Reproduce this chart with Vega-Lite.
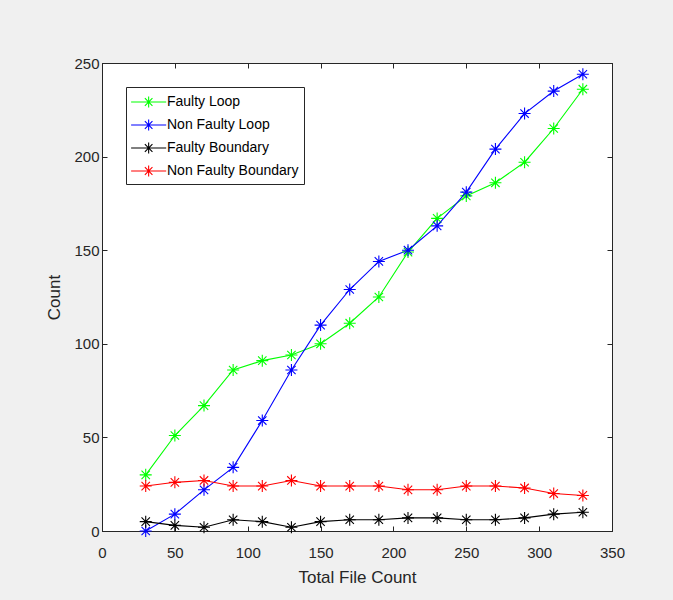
{
  "$schema": "https://vega.github.io/schema/vega-lite/v6.json",
  "autosize": "none",
  "width": 510,
  "height": 468,
  "padding": {"left": 102, "top": 63, "right": 61, "bottom": 69},
  "background": "#f0f0f0",
  "config": {
    "font": "Liberation Sans",
    "view": {"fill": "white", "stroke": "#262626", "strokeWidth": 1},
    "axis": {
      "grid": false,
      "domainColor": "#262626",
      "tickColor": "#262626",
      "tickSize": -5,
      "labelColor": "#262626",
      "labelFont": "Liberation Sans",
      "labelFontSize": 15,
      "labelFontWeight": "normal",
      "titleFont": "Liberation Sans",
      "titleFontSize": 17,
      "titleFontWeight": "normal",
      "titleColor": "#262626"
    },
    "legend": {
      "orient": "top-left",
      "offset": 24,
      "title": null,
      "strokeColor": "#262626",
      "fillColor": "white",
      "padding": 5,
      "rowPadding": 5,
      "labelFont": "Liberation Sans",
      "labelFontSize": 14,
      "labelColor": "#000000",
      "labelOffset": 16,
      "symbolType": "M-1.1,0H2.8M0.85,-0.6V0.6M0.43,-0.43L1.27,0.43M0.43,0.43L1.27,-0.43",
      "symbolSize": 324,
      "symbolStrokeWidth": 1.1,
      "symbolFillColor": "transparent"
    }
  },
  "data": {
    "values": [
      {"files": 30, "series": "Faulty Loop", "count": 30},
      {"files": 50, "series": "Faulty Loop", "count": 51},
      {"files": 70, "series": "Faulty Loop", "count": 67},
      {"files": 90, "series": "Faulty Loop", "count": 86},
      {"files": 110, "series": "Faulty Loop", "count": 91},
      {"files": 130, "series": "Faulty Loop", "count": 94},
      {"files": 150, "series": "Faulty Loop", "count": 100},
      {"files": 170, "series": "Faulty Loop", "count": 111},
      {"files": 190, "series": "Faulty Loop", "count": 125},
      {"files": 210, "series": "Faulty Loop", "count": 149},
      {"files": 230, "series": "Faulty Loop", "count": 167},
      {"files": 250, "series": "Faulty Loop", "count": 179},
      {"files": 270, "series": "Faulty Loop", "count": 186},
      {"files": 290, "series": "Faulty Loop", "count": 197},
      {"files": 310, "series": "Faulty Loop", "count": 215},
      {"files": 330, "series": "Faulty Loop", "count": 236},
      {"files": 30, "series": "Non Faulty Loop", "count": 0},
      {"files": 50, "series": "Non Faulty Loop", "count": 9},
      {"files": 70, "series": "Non Faulty Loop", "count": 22},
      {"files": 90, "series": "Non Faulty Loop", "count": 34},
      {"files": 110, "series": "Non Faulty Loop", "count": 59},
      {"files": 130, "series": "Non Faulty Loop", "count": 86},
      {"files": 150, "series": "Non Faulty Loop", "count": 110},
      {"files": 170, "series": "Non Faulty Loop", "count": 129},
      {"files": 190, "series": "Non Faulty Loop", "count": 144},
      {"files": 210, "series": "Non Faulty Loop", "count": 150},
      {"files": 230, "series": "Non Faulty Loop", "count": 163},
      {"files": 250, "series": "Non Faulty Loop", "count": 181},
      {"files": 270, "series": "Non Faulty Loop", "count": 204},
      {"files": 290, "series": "Non Faulty Loop", "count": 223},
      {"files": 310, "series": "Non Faulty Loop", "count": 235},
      {"files": 330, "series": "Non Faulty Loop", "count": 244},
      {"files": 30, "series": "Faulty Boundary", "count": 5},
      {"files": 50, "series": "Faulty Boundary", "count": 3},
      {"files": 70, "series": "Faulty Boundary", "count": 2},
      {"files": 90, "series": "Faulty Boundary", "count": 6},
      {"files": 110, "series": "Faulty Boundary", "count": 5},
      {"files": 130, "series": "Faulty Boundary", "count": 2},
      {"files": 150, "series": "Faulty Boundary", "count": 5},
      {"files": 170, "series": "Faulty Boundary", "count": 6},
      {"files": 190, "series": "Faulty Boundary", "count": 6},
      {"files": 210, "series": "Faulty Boundary", "count": 7},
      {"files": 230, "series": "Faulty Boundary", "count": 7},
      {"files": 250, "series": "Faulty Boundary", "count": 6},
      {"files": 270, "series": "Faulty Boundary", "count": 6},
      {"files": 290, "series": "Faulty Boundary", "count": 7},
      {"files": 310, "series": "Faulty Boundary", "count": 9},
      {"files": 330, "series": "Faulty Boundary", "count": 10},
      {"files": 30, "series": "Non Faulty Boundary", "count": 24},
      {"files": 50, "series": "Non Faulty Boundary", "count": 26},
      {"files": 70, "series": "Non Faulty Boundary", "count": 27},
      {"files": 90, "series": "Non Faulty Boundary", "count": 24},
      {"files": 110, "series": "Non Faulty Boundary", "count": 24},
      {"files": 130, "series": "Non Faulty Boundary", "count": 27},
      {"files": 150, "series": "Non Faulty Boundary", "count": 24},
      {"files": 170, "series": "Non Faulty Boundary", "count": 24},
      {"files": 190, "series": "Non Faulty Boundary", "count": 24},
      {"files": 210, "series": "Non Faulty Boundary", "count": 22},
      {"files": 230, "series": "Non Faulty Boundary", "count": 22},
      {"files": 250, "series": "Non Faulty Boundary", "count": 24},
      {"files": 270, "series": "Non Faulty Boundary", "count": 24},
      {"files": 290, "series": "Non Faulty Boundary", "count": 23},
      {"files": 310, "series": "Non Faulty Boundary", "count": 20},
      {"files": 330, "series": "Non Faulty Boundary", "count": 19}
    ]
  },
  "layer": [
    {
      "mark": {"type": "line", "strokeWidth": 1.1, "clip": false},
      "encoding": {
        "x": {
          "field": "files", "type": "quantitative",
          "scale": {"domain": [0, 350], "nice": false, "zero": false},
          "axis": {"title": "Total File Count", "values": [0, 50, 100, 150, 200, 250, 300, 350], "labelPadding": 19, "titlePadding": 9, "labelFlush": false}
        },
        "y": {
          "field": "count", "type": "quantitative",
          "scale": {"domain": [0, 250], "nice": false, "zero": false},
          "axis": {"title": "Count", "values": [0, 50, 100, 150, 200, 250], "labelPadding": 8, "titlePadding": 10, "labelFlush": false}
        },
        "color": {
          "field": "series", "type": "nominal",
          "scale": {"domain": ["Faulty Loop", "Non Faulty Loop", "Faulty Boundary", "Non Faulty Boundary"], "range": ["#00ff00", "#0000ff", "#000000", "#ff0000"]},
          "legend": {"title": null}
        },
        "detail": {"field": "series"}
      }
    },
    {
      "mark": {"type": "point", "filled": false, "strokeWidth": 1.1, "size": 144, "opacity": 1, "clip": false,
        "shape": "M-1,0H1M0,-1V1M-0.7,-0.7L0.7,0.7M-0.7,0.7L0.7,-0.7"},
      "encoding": {
        "x": {
          "field": "files", "type": "quantitative",
          "axis": {"orient": "top", "title": null, "labels": false, "values": [0, 50, 100, 150, 200, 250, 300, 350]}
        },
        "y": {
          "field": "count", "type": "quantitative",
          "axis": {"orient": "right", "title": null, "labels": false, "values": [0, 50, 100, 150, 200, 250]}
        },
        "color": {
          "field": "series", "type": "nominal",
          "legend": {"title": null}
        }
      }
    }
  ],
  "resolve": {"axis": {"x": "independent", "y": "independent"}}
}
